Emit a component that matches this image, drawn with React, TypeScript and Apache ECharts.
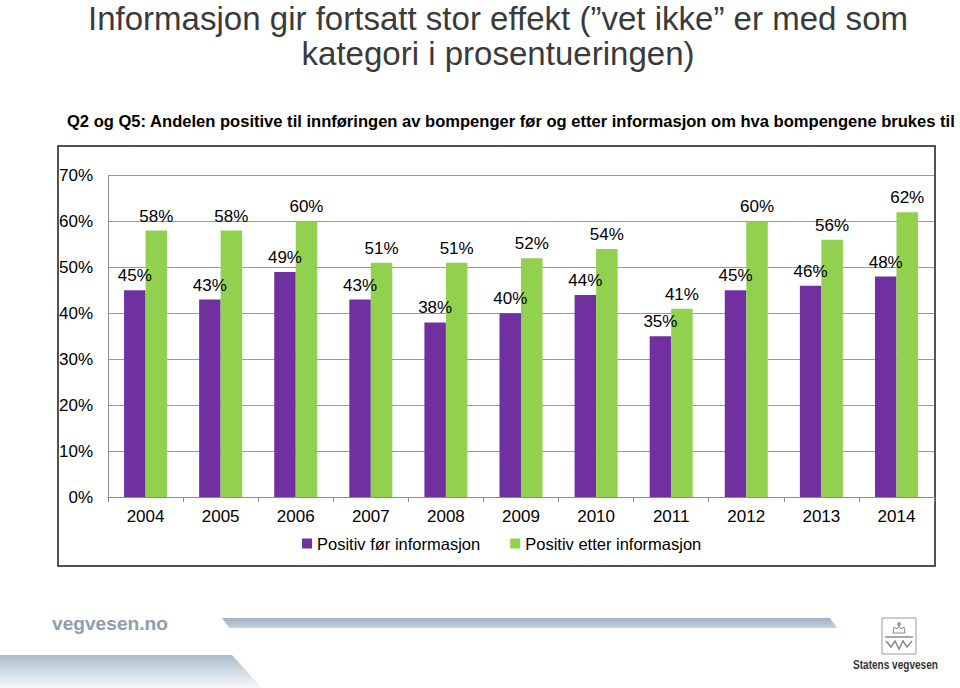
import React, { useEffect, useRef } from "react";
import * as echarts from "echarts";

const years = ["2004", "2005", "2006", "2007", "2008", "2009", "2010", "2011", "2012", "2013", "2014"];
const beforeInfo = [45, 43, 49, 43, 38, 40, 44, 35, 45, 46, 48];
const afterInfo = [58, 58, 60, 51, 51, 52, 54, 41, 60, 56, 62];
const seriesNames = ["Positiv før informasjon", "Positiv etter informasjon"];
const titleLines = [
  "Informasjon gir fortsatt stor effekt (\u201dvet ikke\u201d er med som",
  "kategori i prosentueringen)",
];
const subtitle = "Q2 og Q5: Andelen positive til innføringen av bompenger før og etter informasjon om hva bompengene brukes til";

const FONT = "'Liberation Sans', Arial, sans-serif";

function measure(text: string, font: string): number {
  const c = document.createElement("canvas");
  const ctx = c.getContext("2d");
  if (!ctx) return 1;
  ctx.font = font;
  return ctx.measureText(text).width;
}

export default function App() {
  const ref = useRef<HTMLDivElement>(null);
  useEffect(() => {
    if (!ref.current) return;
    const chart = echarts.init(ref.current, undefined, { renderer: "svg" });

    const titleFont = `34px ${FONT}`;
    const titleScale = 820 / measure(titleLines[0], titleFont);
    const subFont = `bold 17px ${FONT}`;
    const subScale = 890 / measure(subtitle, subFont);
    const logoFont = `bold 13px ${FONT}`;
    const logoScale = 85 / measure("Statens vegvesen", logoFont);
    const siteFont = `bold 19px ${FONT}`;
    const siteScale = 116 / measure("vegvesen.no", siteFont);

    const labelStyle = { show: true, position: "top", distance: 6, formatter: "{c}%", fontSize: 17, color: "#000", fontFamily: FONT };

    chart.setOption({
      animation: false,
      backgroundColor: "#ffffff",
      textStyle: { fontFamily: FONT },
      grid: { left: 108, right: 26, top: 175.5, bottom: 191, containLabel: false },
      legend: {
        left: 297,
        top: 530,
        icon: "rect",
        itemWidth: 10,
        itemHeight: 10,
        itemGap: 30,
        textStyle: { fontSize: 16.5, color: "#000", fontFamily: FONT },
        data: seriesNames,
      },
      xAxis: {
        type: "category",
        data: years,
        axisLine: { lineStyle: { color: "#8c8c8c", width: 1 } },
        axisTick: { show: true, length: 5, alignWithLabel: false, lineStyle: { color: "#8c8c8c" } },
        axisLabel: { fontSize: 17, color: "#000", margin: 11, fontFamily: FONT },
      },
      yAxis: {
        type: "value",
        min: 0,
        max: 70,
        interval: 10,
        axisLine: { show: true, lineStyle: { color: "#8c8c8c", width: 1 } },
        axisTick: { show: false },
        axisLabel: { fontSize: 17, color: "#000", margin: 15, formatter: "{value}%", fontFamily: FONT },
        splitLine: { lineStyle: { color: "#9a9a9a", width: 1 } },
      },
      series: [
        {
          name: seriesNames[0],
          type: "bar",
          data: beforeInfo,
          barWidth: 21.5,
          barGap: "0%",
          itemStyle: { color: "#7030A0" },
          label: labelStyle,
        },
        {
          name: seriesNames[1],
          type: "bar",
          data: afterInfo,
          barWidth: 21.5,
          barGap: "0%",
          itemStyle: { color: "#92D050" },
          label: labelStyle,
        },
      ],
      graphic: [
        {
          type: "text",
          x: 498,
          y: 18,
          scaleX: titleScale,
          style: { text: titleLines[0], font: titleFont, fill: "#3a3a3a", align: "center", verticalAlign: "middle" },
        },
        {
          type: "text",
          x: 498,
          y: 53,
          scaleX: titleScale,
          style: { text: titleLines[1], font: titleFont, fill: "#3a3a3a", align: "center", verticalAlign: "middle" },
        },
        {
          type: "text",
          x: 67,
          y: 121,
          scaleX: subScale,
          style: { text: subtitle, font: subFont, fill: "#000", align: "left", verticalAlign: "middle" },
        },
        {
          type: "rect",
          shape: { x: 58, y: 146, width: 877, height: 420 },
          style: { fill: "none", stroke: "#1a1a1a", lineWidth: 1.5 },
          silent: true,
        },
        {
          type: "text",
          x: 52,
          y: 624,
          scaleX: siteScale,
          style: { text: "vegvesen.no", font: siteFont, fill: "#8d9eae", align: "left", verticalAlign: "middle" },
        },
        {
          type: "polygon",
          shape: { points: [[222, 618], [830, 618], [837, 628], [229, 628]] },
          style: {
            fill: new echarts.graphic.LinearGradient(0, 0, 0, 1, [
              { offset: 0, color: "#9fb3c4" },
              { offset: 1, color: "#c3d1dc" },
            ]),
          },
        },
        {
          type: "polygon",
          shape: { points: [[0, 655], [232, 655], [262, 688], [0, 688]] },
          style: {
            fill: new echarts.graphic.LinearGradient(0, 0, 0, 1, [
              { offset: 0, color: "#a9bccb" },
              { offset: 1, color: "#f7f9fb" },
            ]),
          },
        },
        {
          type: "group",
          children: [
            { type: "rect", shape: { x: 882, y: 618, width: 34, height: 36 }, style: { fill: "none", stroke: "#9a9a9a", lineWidth: 1 } },
            { type: "circle", shape: { cx: 899, cy: 624, r: 2 }, style: { fill: "#9a9a9a" } },
            { type: "polygon", shape: { points: [[893, 633], [894, 627], [897, 629], [899, 626], [901, 629], [904, 627], [905, 633]] }, style: { fill: "none", stroke: "#8a8a8a", lineWidth: 1 } },
            { type: "polyline", shape: { points: [[885, 637], [913, 637]] }, style: { stroke: "#8a8a8a", lineWidth: 1.5 } },
            { type: "polyline", shape: { points: [[886, 641], [891, 647], [895, 641], [899, 649], [903, 641], [907, 647], [912, 641]] }, style: { stroke: "#8a8a8a", lineWidth: 1.5, fill: "none" } },
          ],
        },
        {
          type: "text",
          x: 853,
          y: 664,
          scaleX: logoScale,
          style: { text: "Statens vegvesen", font: logoFont, fill: "#333", align: "left", verticalAlign: "middle" },
        },
      ],
    });
    return () => chart.dispose();
  }, []);
  return <div ref={ref} style={{ position: "fixed", left: 0, top: 0, width: 960, height: 688 }} />;
}
